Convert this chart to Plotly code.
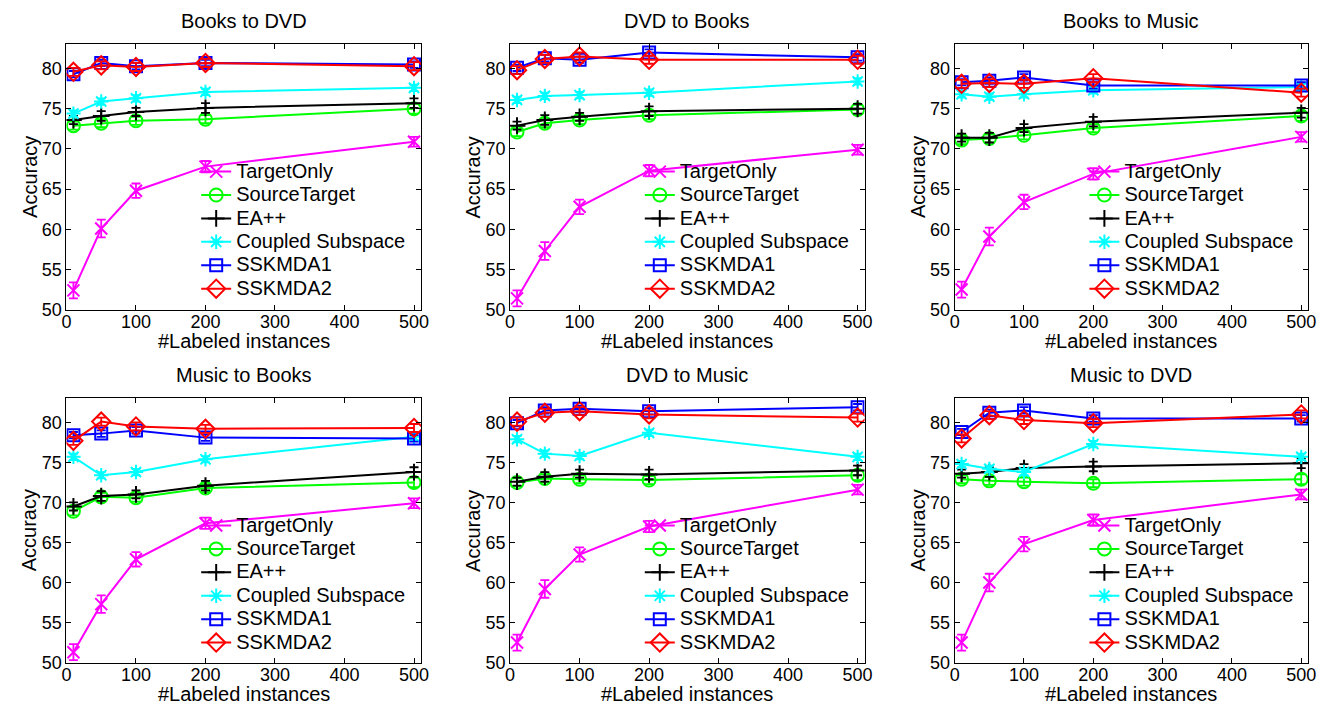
import plotly.graph_objects as go

W, H = 1326, 706

x_labeled = [10, 50, 100, 200, 500]
panel_titles = ["Books to DVD", "DVD to Books", "Books to Music",
                "Music to Books", "DVD to Music", "Music to DVD"]
series_names = ["TargetOnly", "SourceTarget", "EA++", "Coupled Subspace", "SSKMDA1", "SSKMDA2"]

# accuracy per panel (order of panel_titles)
target_only = [
    [52.4, 60.1, 64.8, 67.8, 70.9],
    [51.4, 57.3, 62.8, 67.3, 69.9],
    [52.5, 59.1, 63.4, 66.9, 71.5],
    [51.3, 57.3, 62.9, 67.4, 69.9],
    [52.5, 59.2, 63.5, 67.0, 71.6],
    [52.5, 60.0, 64.8, 67.8, 71.0],
]
source_target = [
    [72.9, 73.2, 73.5, 73.7, 75.0],
    [72.1, 73.2, 73.6, 74.2, 74.9],
    [71.1, 71.3, 71.7, 72.6, 74.1],
    [68.9, 70.7, 70.6, 71.8, 72.5],
    [72.5, 73.0, 72.9, 72.8, 73.4],
    [72.9, 72.7, 72.6, 72.4, 72.9],
]
ea_pp = [
    [73.6, 74.1, 74.6, 75.1, 75.7],
    [72.9, 73.6, 74.0, 74.7, 75.0],
    [71.4, 71.4, 72.6, 73.4, 74.5],
    [69.5, 70.8, 71.0, 72.1, 73.8],
    [72.6, 73.2, 73.6, 73.5, 74.0],
    [73.6, 73.8, 74.3, 74.5, 74.9],
]
coupled_subspace = [
    [74.4, 75.9, 76.3, 77.1, 77.6],
    [76.1, 76.6, 76.7, 77.0, 78.4],
    [76.8, 76.5, 76.8, 77.3, 77.7],
    [75.7, 73.4, 73.8, 75.4, 78.2],
    [77.9, 76.1, 75.8, 78.7, 75.7],
    [74.8, 74.2, 73.8, 77.3, 75.7],
]
sskmda1 = [
    [79.3, 80.7, 80.3, 80.7, 80.5],
    [80.1, 81.3, 81.1, 82.0, 81.4],
    [78.3, 78.5, 78.9, 77.9, 77.9],
    [78.4, 78.6, 79.0, 78.1, 78.0],
    [79.9, 81.5, 81.7, 81.4, 81.9],
    [78.8, 81.2, 81.5, 80.5, 80.5],
]
sskmda2 = [
    [79.6, 80.4, 80.2, 80.7, 80.3],
    [79.8, 81.2, 81.5, 81.1, 81.1],
    [78.1, 78.2, 78.1, 78.8, 77.0],
    [77.7, 80.1, 79.5, 79.2, 79.3],
    [80.1, 81.2, 81.4, 81.0, 80.6],
    [78.0, 80.9, 80.3, 79.9, 81.0],
]
# error bar half-widths per series
err_target_only = [1.0, 1.1, 0.9, 0.7, 0.6]
err_source_target = [0.5, 0.5, 0.5, 0.5, 0.6]
err_ea_pp = [0.5, 0.6, 0.5, 0.6, 0.6]
err_coupled = [0.4, 0.4, 0.4, 0.4, 0.4]
err_sskmda1 = [0.4, 0.4, 0.4, 0.4, 0.4]
err_sskmda2 = [0.5, 0.5, 0.5, 0.5, 0.5]

all_series = [target_only, source_target, ea_pp, coupled_subspace, sskmda1, sskmda2]
all_errs = [err_target_only, err_source_target, err_ea_pp, err_coupled, err_sskmda1, err_sskmda2]

colors = ["#FF00FF", "#00FF00", "#000000", "#00FFFF", "#0000FF", "#FF0000"]
symbols = ["x-thin", "circle-open", "cross-thin", "asterisk-open", "square-open", "diamond-open"]
sizes = [12, 13, 12, 12, 12, 14]

x_ticks = [0, 100, 200, 300, 400, 500]
y_ticks = [50, 55, 60, 65, 70, 75, 80]

# pixel geometry of axes boxes
col_px = [(54, 412), (502, 860), (951, 1308)]
row_px = [(37, 306), (396, 664)]

FONT = "Liberation Sans, Arial, Helvetica, sans-serif"
LEG_BASE = 15.7   # sets legend row spacing
LEG_TEXT = 20     # rendered legend text size

fig = go.Figure()
annotations = []
layout = {}

for p in range(6):
    r, c = divmod(p, 3)
    xl, xr = col_px[c]
    yt, yb = row_px[r]
    sfx = "" if p == 0 else str(p + 1)
    xa, ya = "x" + sfx, "y" + sfx
    leg = "legend" + sfx
    for s in range(6):
        fig.add_trace(go.Scatter(
            x=x_labeled, y=all_series[s][p],
            mode="lines+markers",
            name=f'<span style="font-size:{LEG_TEXT}px">{series_names[s]}</span>',
            line=dict(color=colors[s], width=2),
            marker=dict(symbol=symbols[s], size=sizes[s], color=colors[s],
                        line=dict(color=colors[s], width=2)),
            error_y=dict(type="data", array=all_errs[s], color=colors[s],
                         thickness=1.8, width=4.5),
            xaxis=xa, yaxis=ya, legend=leg, showlegend=True,
        ))
    layout["xaxis" + sfx] = dict(
        domain=[xl / W, xr / W], range=[0, 510], anchor=ya,
        tickvals=x_ticks, ticks="inside", ticklen=5, tickcolor="black",
        showline=True, linecolor="black", linewidth=1, mirror="ticks",
        showgrid=False, zeroline=False, ticklabelstandoff=-4,
        tickfont=dict(family=FONT, size=18, color="black"),
    )
    layout["yaxis" + sfx] = dict(
        domain=[1 - yb / H, 1 - yt / H], range=[50, 83], anchor=xa,
        tickvals=y_ticks, ticks="inside", ticklen=5, tickcolor="black",
        showline=True, linecolor="black", linewidth=1, mirror="ticks",
        showgrid=False, zeroline=False,
        tickfont=dict(family=FONT, size=18, color="black"),
    )
    layout[leg] = dict(
        x=(xl + 131) / W, y=1 - (yt + 112) / H,
        xanchor="left", yanchor="top",
        bgcolor="rgba(0,0,0,0)", borderwidth=0,
        font=dict(family=FONT, size=LEG_BASE, color="black"),
        itemwidth=30, tracegroupgap=0,
    )
    cx = (xl + xr) / 2
    annotations.append(dict(text=panel_titles[p], x=cx / W, y=1 - (yt - 24) / H,
                            xref="paper", yref="paper", showarrow=False,
                            xanchor="center", yanchor="middle",
                            font=dict(family=FONT, size=20, color="black")))
    annotations.append(dict(text="#Labeled instances", x=cx / W, y=1 - (yb + 32) / H,
                            xref="paper", yref="paper", showarrow=False,
                            xanchor="center", yanchor="middle",
                            font=dict(family=FONT, size=20, color="black")))
    annotations.append(dict(text="Accuracy", x=(xl - 37) / W, y=1 - ((yt + yb) / 2) / H,
                            xref="paper", yref="paper", showarrow=False, textangle=-90,
                            xanchor="center", yanchor="middle",
                            font=dict(family=FONT, size=20, color="black")))

fig.update_layout(
    width=W, height=H,
    margin=dict(l=0, r=0, t=0, b=0),
    paper_bgcolor="white", plot_bgcolor="white",
    annotations=annotations,
    **layout,
)

fig.write_html("out.html")
